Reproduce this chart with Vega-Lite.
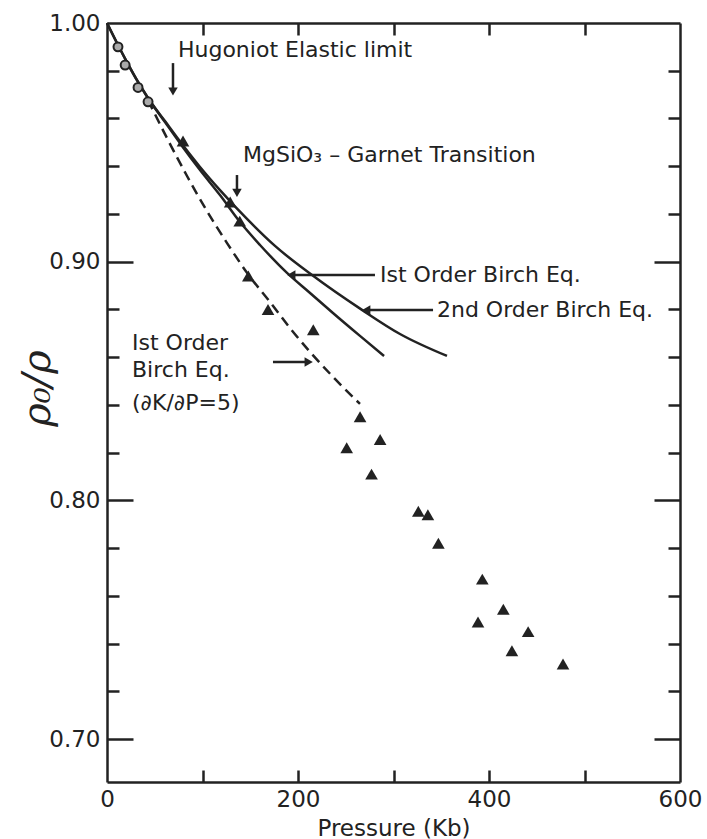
{
  "$schema": "https://vega.github.io/schema/vega-lite/v6.json",
  "width": 573,
  "height": 759,
  "autosize": {"type": "none"},
  "padding": {"left": 107, "top": 23, "right": 27, "bottom": 57},
  "background": "white",
  "config": {
    "view": {"stroke": null},
    "font": "DejaVu Sans",
    "axis": {"domainColor": "#222", "domainWidth": 2.5, "tickColor": "#222", "tickWidth": 2.5, "labelColor": "#222", "titleColor": "#222", "grid": false, "labelFont": "DejaVu Sans", "titleFont": "DejaVu Sans", "labelFontSize": 23, "titleFontWeight": "normal"}
  },
  "datasets": {
    "curves": [
      {"series": "first", "P": 0, "r": 1.0},
      {"series": "first", "P": 11.5, "r": 0.9908},
      {"series": "first", "P": 22.0, "r": 0.9828},
      {"series": "first", "P": 32.5, "r": 0.9753},
      {"series": "first", "P": 42.9, "r": 0.9686},
      {"series": "first", "P": 60.7, "r": 0.9585},
      {"series": "first", "P": 78.5, "r": 0.9485},
      {"series": "first", "P": 97.4, "r": 0.9384},
      {"series": "first", "P": 118.3, "r": 0.9279},
      {"series": "first", "P": 139.3, "r": 0.9166},
      {"series": "first", "P": 160.2, "r": 0.9070},
      {"series": "first", "P": 188.5, "r": 0.8953},
      {"series": "first", "P": 212.6, "r": 0.8869},
      {"series": "first", "P": 236.6, "r": 0.8785},
      {"series": "first", "P": 264.9, "r": 0.8689},
      {"series": "first", "P": 290.1, "r": 0.8605},
      {"series": "second", "P": 0, "r": 1.0},
      {"series": "second", "P": 11.5, "r": 0.9908},
      {"series": "second", "P": 22.0, "r": 0.9828},
      {"series": "second", "P": 32.5, "r": 0.9753},
      {"series": "second", "P": 42.9, "r": 0.9686},
      {"series": "second", "P": 60.7, "r": 0.9589},
      {"series": "second", "P": 78.5, "r": 0.9493},
      {"series": "second", "P": 97.4, "r": 0.9397},
      {"series": "second", "P": 118.3, "r": 0.9300},
      {"series": "second", "P": 146.6, "r": 0.9179},
      {"series": "second", "P": 175.9, "r": 0.9066},
      {"series": "second", "P": 214.7, "r": 0.8944},
      {"series": "second", "P": 267.0, "r": 0.8798},
      {"series": "second", "P": 306.8, "r": 0.8697},
      {"series": "second", "P": 356.0, "r": 0.8605},
      {"series": "dashed", "P": 42.9, "r": 0.9677},
      {"series": "dashed", "P": 62.8, "r": 0.9518},
      {"series": "dashed", "P": 83.8, "r": 0.9359},
      {"series": "dashed", "P": 104.7, "r": 0.9212},
      {"series": "dashed", "P": 125.7, "r": 0.9078},
      {"series": "dashed", "P": 147.6, "r": 0.8948},
      {"series": "dashed", "P": 170.7, "r": 0.8831},
      {"series": "dashed", "P": 191.6, "r": 0.8722},
      {"series": "dashed", "P": 212.6, "r": 0.8622},
      {"series": "dashed", "P": 238.7, "r": 0.8509},
      {"series": "dashed", "P": 264.9, "r": 0.8404}
    ],
    "circles": [
      {"P": 11.5, "r": 0.990},
      {"P": 19.0, "r": 0.9824},
      {"P": 32.5, "r": 0.973},
      {"P": 43.0, "r": 0.967}
    ],
    "triangles": [
      {"P": 79.6, "r": 0.9506},
      {"P": 129.0, "r": 0.925},
      {"P": 139.0, "r": 0.917},
      {"P": 148.0, "r": 0.894},
      {"P": 168.6, "r": 0.880},
      {"P": 216.0, "r": 0.8715},
      {"P": 265.0, "r": 0.835},
      {"P": 286.0, "r": 0.8255},
      {"P": 251.0, "r": 0.822},
      {"P": 277.0, "r": 0.811},
      {"P": 326.0, "r": 0.7954},
      {"P": 336.0, "r": 0.794},
      {"P": 347.0, "r": 0.782},
      {"P": 393.0, "r": 0.767},
      {"P": 415.0, "r": 0.7544},
      {"P": 388.5, "r": 0.749},
      {"P": 441.0, "r": 0.745},
      {"P": 424.0, "r": 0.737},
      {"P": 477.5, "r": 0.7314}
    ],
    "vRules": [
      {"P": 69.1, "r1": 0.9832, "r2": 0.9718},
      {"P": 136.1, "r1": 0.9363, "r2": 0.9293}
    ],
    "hRules": [
      {"P1": 193.5, "P2": 280.6, "r": 0.8944},
      {"P1": 272.0, "P2": 341.4, "r": 0.8798},
      {"P1": 173.8, "P2": 210.7, "r": 0.8580}
    ],
    "heads": [
      {"P": 69.1, "r": 0.9713, "dir": "down"},
      {"P": 136.1, "r": 0.9288, "dir": "down"},
      {"P": 193.0, "r": 0.8944, "dir": "left"},
      {"P": 271.5, "r": 0.8798, "dir": "left"},
      {"P": 211.2, "r": 0.8580, "dir": "right"}
    ],
    "labels": [
      {"P": 74.3, "r": 0.9887, "text": "Hugoniot Elastic limit"},
      {"P": 142.4, "r": 0.9447, "text": "MgSiO₃ – Garnet Transition"},
      {"P": 285.9, "r": 0.8944, "text": "Ist Order Birch Eq."},
      {"P": 345.5, "r": 0.8798, "text": "2nd Order Birch Eq."},
      {"P": 26.2, "r": 0.8659, "text": "Ist Order"},
      {"P": 26.2, "r": 0.8546, "text": "Birch Eq."},
      {"P": 26.2, "r": 0.8408, "text": "(∂K/∂P=5)"}
    ]
  },
  "resolve": {"axis": {"x": "independent", "y": "independent"}},
  "layer": [
    {
      "data": {"name": "curves"},
      "transform": [{"filter": "datum.series != 'dashed'"}],
      "mark": {"type": "line", "color": "#222", "strokeWidth": 2.5, "interpolate": "monotone"},
      "encoding": {
        "x": {"field": "P", "type": "quantitative", "scale": {"domain": [0, 600], "nice": false, "zero": false},
          "axis": {"orient": "bottom", "values": [0, 200, 400, 600], "ticks": false, "tickSize": 0, "labelPadding": 6,
            "labelFlush": false, "labelOverlap": false,
            "title": "Pressure (Kb)", "titleFontSize": 23, "titleY": 46, "titleBaseline": "middle"}},
        "y": {"field": "r", "type": "quantitative", "scale": {"domain": [0.682, 1.0], "nice": false, "zero": false},
          "axis": {"orient": "left", "values": [0.7, 0.8, 0.9, 1.0], "ticks": false, "tickSize": 0,
            "labelPadding": 7, "format": ".2f", "labelOverlap": false, "labelFlush": false,
            "title": "ρ₀/ρ", "titleFont": "DejaVu Serif", "titleFontStyle": "italic", "titleFontSize": 40,
            "titleAngle": 270, "titleX": -70, "titleY": 365, "titleAlign": "center", "titleBaseline": "middle"}},
        "detail": {"field": "series"}
      }
    },
    {
      "data": {"name": "curves"},
      "transform": [{"filter": "datum.series == 'dashed'"}],
      "mark": {"type": "line", "color": "#222", "strokeWidth": 2.5, "strokeDash": [10, 6], "interpolate": "monotone"},
      "encoding": {
        "x": {"field": "P", "type": "quantitative", "scale": {"domain": [0, 600], "nice": false, "zero": false},
          "axis": {"orient": "bottom", "values": [100, 200, 300, 400, 500], "offset": -12, "tickSize": 12, "domain": false, "labels": false, "title": null}},
        "y": {"field": "r", "type": "quantitative", "scale": {"domain": [0.682, 1.0], "nice": false, "zero": false},
          "axis": {"orient": "left", "values": [0.72, 0.74, 0.76, 0.78, 0.82, 0.84, 0.86, 0.88, 0.92, 0.94, 0.96, 0.98], "offset": -12, "tickSize": 12, "domain": false, "labels": false, "title": null}}
      }
    },
    {
      "data": {"name": "circles"},
      "mark": {"type": "point", "shape": "circle", "filled": true, "fill": "#aaa", "stroke": "#222", "strokeWidth": 2, "size": 80, "opacity": 1},
      "encoding": {
        "x": {"field": "P", "type": "quantitative", "scale": {"domain": [0, 600], "nice": false, "zero": false},
          "axis": {"orient": "top", "ticks": false, "labels": false, "title": null}},
        "y": {"field": "r", "type": "quantitative", "scale": {"domain": [0.682, 1.0], "nice": false, "zero": false},
          "axis": {"orient": "left", "values": [0.7, 0.8, 0.9], "offset": -26, "tickSize": 26, "domain": false, "labels": false, "title": null}}
      }
    },
    {
      "data": {"name": "triangles"},
      "mark": {"type": "point", "shape": "triangle-up", "filled": true, "color": "#222", "size": 160, "opacity": 1},
      "encoding": {
        "x": {"field": "P", "type": "quantitative", "scale": {"domain": [0, 600], "nice": false, "zero": false},
          "axis": {"orient": "top", "values": [100, 200, 300, 400, 500], "offset": -12, "tickSize": 12, "domain": false, "labels": false, "title": null}},
        "y": {"field": "r", "type": "quantitative", "scale": {"domain": [0.682, 1.0], "nice": false, "zero": false},
          "axis": {"orient": "right", "ticks": false, "labels": false, "title": null}}
      }
    },
    {
      "data": {"name": "vRules"},
      "mark": {"type": "rule", "color": "#222", "strokeWidth": 2.5},
      "encoding": {
        "x": {"field": "P", "type": "quantitative", "scale": {"domain": [0, 600], "nice": false, "zero": false}, "axis": null},
        "y": {"field": "r1", "type": "quantitative", "scale": {"domain": [0.682, 1.0], "nice": false, "zero": false},
          "axis": {"orient": "right", "values": [0.72, 0.74, 0.76, 0.78, 0.82, 0.84, 0.86, 0.88, 0.92, 0.94, 0.96, 0.98], "offset": -12, "tickSize": 12, "domain": false, "labels": false, "title": null}},
        "y2": {"field": "r2"}
      }
    },
    {
      "data": {"name": "hRules"},
      "mark": {"type": "rule", "color": "#222", "strokeWidth": 2.5},
      "encoding": {
        "x": {"field": "P1", "type": "quantitative", "scale": {"domain": [0, 600], "nice": false, "zero": false}, "axis": null},
        "x2": {"field": "P2"},
        "y": {"field": "r", "type": "quantitative", "scale": {"domain": [0.682, 1.0], "nice": false, "zero": false},
          "axis": {"orient": "right", "values": [0.7, 0.8, 0.9], "offset": -26, "tickSize": 26, "domain": false, "labels": false, "title": null}}
      }
    },
    {
      "data": {"name": "heads"},
      "mark": {"type": "point", "filled": true, "color": "#222", "size": 90, "opacity": 1},
      "encoding": {
        "x": {"field": "P", "type": "quantitative", "scale": {"domain": [0, 600], "nice": false, "zero": false}, "axis": null},
        "y": {"field": "r", "type": "quantitative", "scale": {"domain": [0.682, 1.0], "nice": false, "zero": false}, "axis": null},
        "shape": {"field": "dir", "type": "nominal", "scale": {"domain": ["down", "left", "right"], "range": ["triangle-down", "triangle-left", "triangle-right"]}, "legend": null}
      }
    },
    {
      "data": {"name": "labels"},
      "mark": {"type": "text", "align": "left", "baseline": "middle", "font": "DejaVu Sans", "fontSize": 22, "color": "#222"},
      "encoding": {
        "x": {"field": "P", "type": "quantitative", "scale": {"domain": [0, 600], "nice": false, "zero": false}, "axis": null},
        "y": {"field": "r", "type": "quantitative", "scale": {"domain": [0.682, 1.0], "nice": false, "zero": false}, "axis": null},
        "text": {"field": "text"}
      }
    }
  ]
}
